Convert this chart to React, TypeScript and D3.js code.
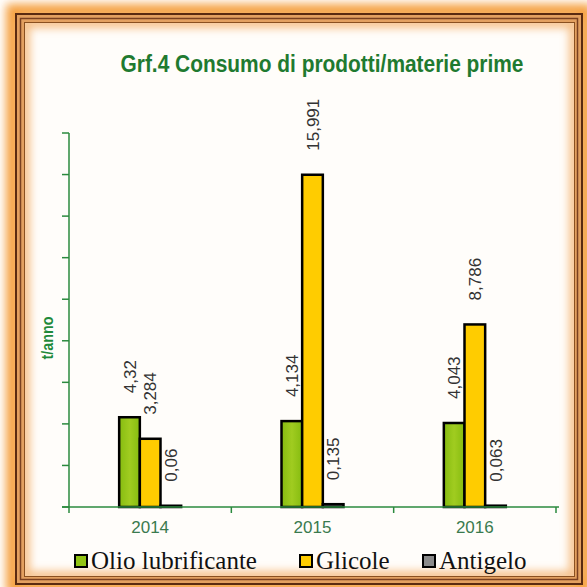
import React from "react"
import * as d3 from "d3"

const years = ["2014", "2015", "2016"]
const series = ["Olio lubrificante", "Glicole", "Antigelo"]
const olio = [4.32, 4.134, 4.043]
const glicole = [3.284, 15.991, 8.786]
const antigelo = [0.06, 0.135, 0.063]
const valueLabels = [
	["4,32", "4,134", "4,043"],
	["3,284", "15,991", "8,786"],
	["0,06", "0,135", "0,063"],
]
const yTicks = [0, 2, 4, 6, 8, 10, 12, 14, 16, 18]
const title = "Grf.4 Consumo di prodotti/materie prime"
const yTitle = "t/anno"

const colors = ["#92c414", "#ffcc00", "#8a8a8a"]
const axisGreen = "#2b8a3e"

export default function App() {
	/** Overall dimensions */
	const width = 587
	const height = 587

	/** Plot area */
	const plotLeft = 69
	const plotRight = 556
	const plotTop = 133
	const plotBottom = 507

	const values = [olio, glicole, antigelo]

	const x = d3.scaleBand<string>().domain(years).range([plotLeft, plotRight]).padding(0)
	const groupWidth = 62
	const xs = d3.scaleBand<string>().domain(series).range([0, groupWidth]).padding(0)
	const y = d3.scaleLinear().domain([0, 18]).range([plotBottom, plotTop])

	const groupStart = (yr: string) => (x(yr) as number) + (x.bandwidth() - groupWidth) / 2

	/** legend layout */
	const legendX = [75, 300, 423]
	const legendY = 561

	return (
		<svg width={width} height={height} style={{ position: "absolute", left: 0, top: 0 }}>
			<defs>
				<filter id="glow" x="-10%" y="-10%" width="120%" height="120%">
					<feGaussianBlur stdDeviation="5" />
				</filter>
				<filter id="innerGlow" x="-10%" y="-10%" width="120%" height="120%">
					<feGaussianBlur stdDeviation="4" />
				</filter>
				<clipPath id="inner">
					<rect x={25} y={23} width={549} height={553} />
				</clipPath>
				<linearGradient id="greenGrad" x1="0" x2="1" y1="0" y2="0">
					<stop offset="0" stopColor="#86bc10" />
					<stop offset="0.5" stopColor="#a0cc20" />
					<stop offset="1" stopColor="#86bc10" />
				</linearGradient>
			</defs>

			{/* frame */}
			<rect x={0} y={0} width={width} height={height} fill="#ffffff" />
			<rect x={13} y={11} width={572} height={576} fill="none" stroke="#f5a040" strokeWidth={14} filter="url(#glow)" />
			<rect x={16} y={14} width={566} height={570} fill="#e3a060" stroke="#5a2a10" strokeWidth={2} />
			<rect x={20.5} y={18.5} width={557} height={561} fill="none" stroke="#7a4020" strokeWidth={1.5} />
			<rect x={24.5} y={22.5} width={550} height={554} fill="#fffdfa" stroke="#8a5020" strokeWidth={1} />
			<g clipPath="url(#inner)">
				<rect x={25} y={23} width={549} height={553} fill="none" stroke="#f6c088" strokeWidth={10} filter="url(#innerGlow)" />
			</g>

			{/* title */}
			<text
				x={322}
				y={72}
				textAnchor="middle"
				fontFamily="'Liberation Sans Narrow', 'Arial Narrow', 'Liberation Sans', Arial, sans-serif"
				fontWeight="bold"
				fontSize={23}
				fill="#1f7a30"
				textLength={403}
				lengthAdjust="spacingAndGlyphs"
			>
				{title}
			</text>

			{/* y axis */}
			<line x1={plotLeft} x2={plotLeft} y1={plotTop} y2={plotBottom} stroke={axisGreen} strokeWidth={1.5} />
			{yTicks.map(t => (
				<line key={t} x1={plotLeft - 7} x2={plotLeft} y1={y(t)} y2={y(t)} stroke={axisGreen} strokeWidth={1.5} />
			))}
			<text
				transform={`translate(53, 338) rotate(-90)`}
				textAnchor="middle"
				fontFamily="'Liberation Sans', Arial, sans-serif"
				fontWeight="bold"
				fontSize={17}
				fill="#1f8a3a"
				textLength={43}
				lengthAdjust="spacingAndGlyphs"
			>
				{yTitle}
			</text>

			{/* bars */}
			{series.map((s, si) =>
				years.map((yr, yi) => {
					const v = values[si][yi]
					const bx = groupStart(yr) + (xs(s) as number)
					const top = y(v)
					return (
						<rect
							key={s + yr}
							x={bx}
							y={top}
							width={xs.bandwidth()}
							height={plotBottom - top}
							fill={si === 0 ? "url(#greenGrad)" : colors[si]}
							stroke="#000"
							strokeWidth={2.5}
						/>
					)
				})
			)}

			{/* value labels */}
			{series.map((s, si) =>
				years.map((yr, yi) => {
					const v = values[si][yi]
					const cx = groupStart(yr) + (xs(s) as number) + xs.bandwidth() / 2
					const top = y(v)
					return (
						<text
							key={"l" + s + yr}
							transform={`translate(${cx + 6}, ${top - 24}) rotate(-90)`}
							fontFamily="'Liberation Sans', Arial, sans-serif"
							fontSize={17}
							fill="#333"
						>
							{valueLabels[si][yi]}
						</text>
					)
				})
			)}

			{/* x axis */}
			<line x1={plotLeft - 7} x2={plotRight + 3} y1={plotBottom} y2={plotBottom} stroke={axisGreen} strokeWidth={1.5} />
			{[...years.map(yr => x(yr) as number), plotRight].map((tx, i) => (
				<line key={i} x1={tx} x2={tx} y1={plotBottom} y2={plotBottom + 6} stroke={axisGreen} strokeWidth={1.5} />
			))}
			{years.map(yr => (
				<text
					key={yr}
					x={(x(yr) as number) + x.bandwidth() / 2}
					y={533}
					textAnchor="middle"
					fontFamily="'Liberation Sans', Arial, sans-serif"
					fontSize={17}
					fill="#3a7a4e"
				>
					{yr}
				</text>
			))}

			{/* legend */}
			{series.map((s, si) => (
				<g key={s} transform={`translate(${legendX[si]}, ${legendY})`}>
					<rect x={0} y={-6} width={12} height={12} fill={colors[si]} stroke="#000" strokeWidth={2} />
					<text x={16} y={8} fontFamily="'Liberation Serif', 'DejaVu Serif', 'Times New Roman', serif" fontSize={25} fill="#111">
						{s}
					</text>
				</g>
			))}
		</svg>
	)
}
